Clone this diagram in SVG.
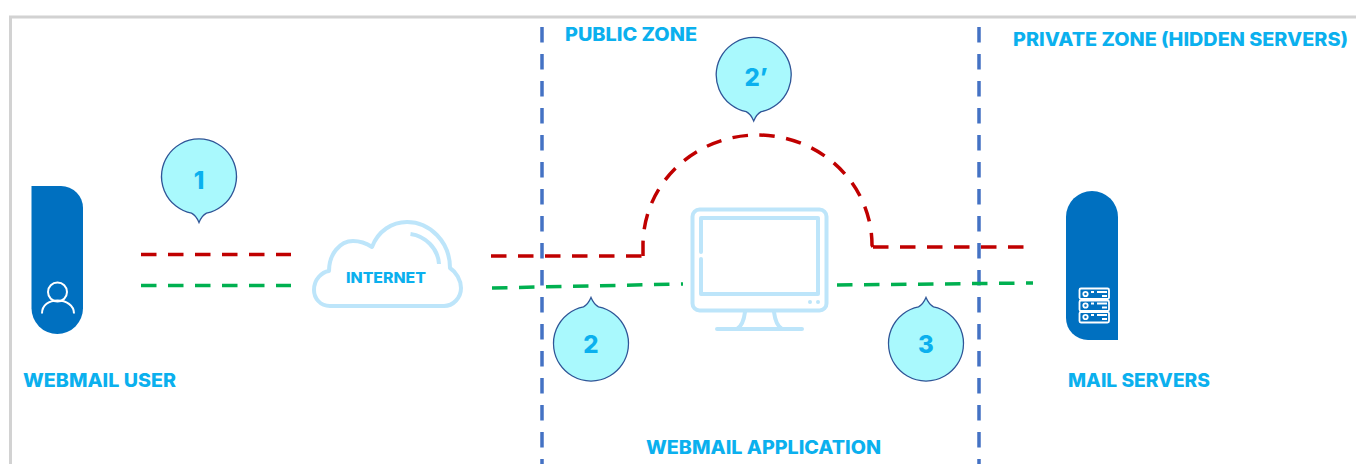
<svg xmlns="http://www.w3.org/2000/svg" width="1356" height="464" viewBox="0 0 1356 464">
<style>
.t{font-family:"Inter","Open Sans","Liberation Sans",sans-serif;font-weight:800;fill:#0bb0ee}
.d{fill:none;stroke-width:3.500;stroke-dasharray:15.500 11.500}
.red{stroke:#c00000}.green{stroke:#00b050}.zone{stroke:#4472c4}
.ic{fill:none;stroke:#bde5fa;stroke-width:4;stroke-linecap:round;stroke-linejoin:round}
.wh{fill:none;stroke:#fff;stroke-width:1.800}
.pill{fill:#0070c0}
.bub{fill:#a9f9fd;stroke:#2f5597;stroke-width:1.300}
</style>
<defs>
<path id="bubble" d="M-7.500 36.700A37.500 37.500 0 1 1 7.500 36.700Q3 39 0 46Q-3 39-7.500 36.700Z"/>
</defs>
<rect width="1356" height="464" fill="#fff"/>
<path d="M10.500 464V17H1356" fill="none" stroke="#d2d2d2" stroke-width="3"/>
<g id="connectors">
<path class="d red" d="M141 254.500H291"/>
<path class="d green" d="M141 285.500H291"/>
<path class="d red" d="M491 256H643"/>
<path class="d red" d="M643 256V245A114.500 110 0 0 1 872 245L873 247"/>
<path class="d red" d="M1023.500 247H873"/>
<path class="d zone" d="M542 27V464"/>
<path class="d zone" d="M979 27V464"/>
<path class="d green" d="M492 288L683 284"/>
<path class="d green" d="M837 285L1033 283"/>
</g>
<g id="webmail-user">
<path class="pill" d="M31.500 186H61A22 22 0 0 1 83 208V308.250A25.750 25.750 0 0 1 31.500 308.250Z"/>
<circle class="wh" style="stroke-width:2" cx="57.500" cy="292" r="9.500"/>
<path class="wh" style="stroke-width:2" d="M42 313.500C42 305 49 300.500 57.500 300.500S74 305 74 313.500"/>
<text class="t" x="23" y="387" font-size="18.500" textLength="153" lengthAdjust="spacingAndGlyphs">WEBMAIL USER</text>
</g>
<g id="internet">
<path class="ic" d="M330 306C320 306 314 298 314 290C314 279 322 272 329 271C329 254 340 241 353 241C360 241 366 243 372 247C378 231 392 222 407 222C430 222 450 242 450 268C456 272 461 280 461 288C461 298 453 306 444 306Z"/>
<path class="ic" style="stroke-linecap:butt" d="M410.500 234C425 236 438 248 439 264"/>
<text class="t" x="346" y="283" font-size="15" textLength="80" lengthAdjust="spacingAndGlyphs">INTERNET</text>
</g>
<g id="webmail-application">
<rect class="ic" x="692.500" y="209.500" width="134" height="101" rx="7"/>
<path class="ic" d="M701 252V218H818V294H701V259"/>
<path class="ic" d="M745 312C744 320 742 326 737 329M774 312C775 320 777 326 782 329M717 329H802"/>
<circle cx="810" cy="302" r="2" fill="#bde5fa"/>
<circle cx="818" cy="302" r="2" fill="#bde5fa"/>
<text class="t" x="646" y="454" font-size="18.500" textLength="235" lengthAdjust="spacingAndGlyphs">WEBMAIL APPLICATION</text>
</g>
<g id="mail-servers">
<path class="pill" d="M1066 217A26 26 0 0 1 1118 217V340H1088A22 22 0 0 1 1066 318Z"/>
<g class="wh">
<rect x="1079.500" y="288.500" width="29.500" height="10.500" rx="1.500"/>
<rect x="1079.500" y="300.500" width="29.500" height="10.500" rx="1.500"/>
<rect x="1079.500" y="312" width="29.500" height="10.500" rx="1.500"/>
<circle cx="1085.500" cy="294" r="2.200"/><circle cx="1085.500" cy="305.500" r="2.200"/><circle cx="1085.500" cy="317" r="2.200"/>
<path d="M1091 292H1094M1097 292H1107M1102 296H1107M1091 303.500H1094M1097 303.500H1107M1102 307.500H1107M1091 315H1094M1097 315H1107M1102 319H1107"/>
</g>
<text class="t" x="1068" y="387" font-size="18.500" textLength="142" lengthAdjust="spacingAndGlyphs">MAIL SERVERS</text>
</g>
<g id="public-zone"><text class="t" x="565" y="41" font-size="18.500" textLength="132" lengthAdjust="spacingAndGlyphs">PUBLIC ZONE</text></g>
<g id="private-zone"><text class="t" x="1013" y="46" font-size="18.500" textLength="335" lengthAdjust="spacingAndGlyphs">PRIVATE ZONE (HIDDEN SERVERS)</text></g>
<g id="step-1">
<use href="#bubble" class="bub" x="199" y="176.500"/>
<text class="t" x="199" y="189" font-size="24" text-anchor="middle">1</text>
</g>
<g id="step-2-prime">
<use href="#bubble" class="bub" x="753.700" y="75"/>
<text class="t" x="756" y="86" font-size="24" text-anchor="middle">2’</text>
</g>
<g id="step-2">
<use href="#bubble" class="bub" transform="translate(591 343.500) rotate(180)"/>
<text class="t" x="591" y="353" font-size="24" text-anchor="middle">2</text>
</g>
<g id="step-3">
<use href="#bubble" class="bub" transform="translate(926 343.500) rotate(180)"/>
<text class="t" x="926" y="353" font-size="24" text-anchor="middle">3</text>
</g>
</svg>
